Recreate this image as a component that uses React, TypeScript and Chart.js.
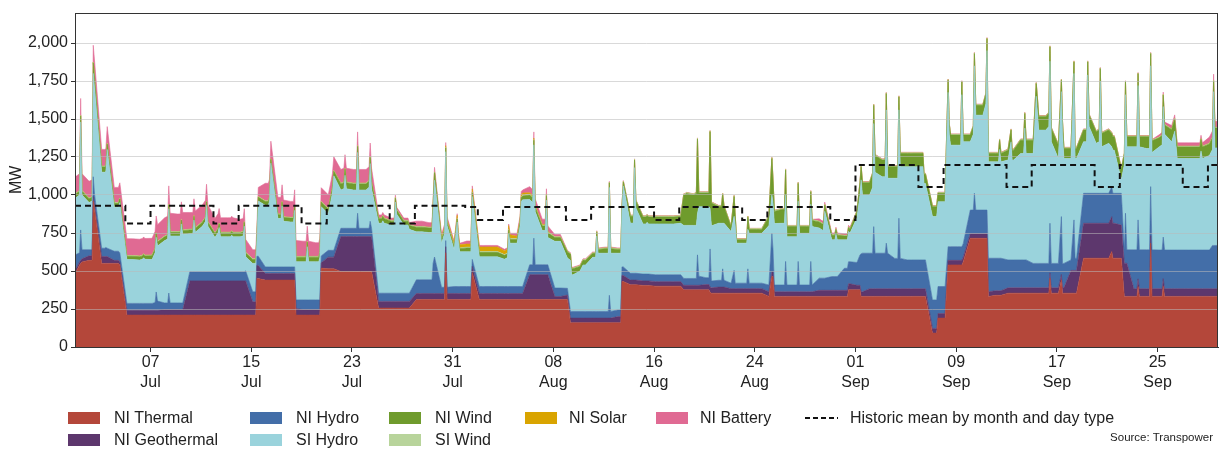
import React, { useEffect, useRef } from 'react';
import { Chart, registerables } from 'chart.js';

Chart.register(...registerables);

// ---------- DATA (days since 1 Jul 2025; 4 readings per day) ----------
const SAMPLE_OFFSETS = [0.12, 0.36, 0.45, 0.56];
const X_END = 90.8;

// NI Thermal (MW); a single number = same value all day
const niThermal: (number | number[])[] = [
  [500,540,550,560],[570,570,960,900],550,[550,550,550,540],210,210,210,210,210,210,
  210,210,210,210,[210,210,450,450],440,440,[440,440,440,210],210,[210,210,210,519],
  515,497,497,497,256,256,256,312,312,[312,312,620,312],
  312,[312,312,312,490],312,312,312,312,312,312,312,[312,160,160,160],
  160,160,160,[160,160,431,431],410,405,400,400,[400,376,376,376],376,
  [376,376,360,354],354,354,354,354,[333,464,464,333],333,333,333,333,
  333,[333,333,376,376],[376,376,333,333],333,333,333,333,333,[92,92,92,190],[190,540,540,540],
  [540,540,540,560],715,[715,715,715,333],340,354,354,354,[354,354,453,354],[354,442,354,354],354,
  584,584,[584,628,584,584],[584,333,333,333],[333,333,398,333],[333,333,683,333],[333,333,400,333],333,333,333,
  333
];

// NI Geothermal (MW, daily)
const niGeothermal: number[] = [
  20,30,45,20,32,32,32,35,35,225,
  225,225,225,225,87,43,43,43,35,35,
  76,230,230,230,44,44,44,40,40,40,
  40,40,40,40,40,40,164,164,20,30,
  30,30,30,40,30,30,30,30,30,30,
  35,40,30,30,30,30,30,30,30,40,
  40,40,30,50,50,50,50,50,30,30,
  30,30,30,30,35,35,35,35,35,150,
  230,230,230,218,50,50,50,50,50,50,
  50
];

// NI Hydro (MW)
const niHydro: (number | number[])[] = [
  [90,60,200,60],[40,40,130,70],[55,55,60,55],60,45,45,[45,50,120,60],[45,45,110,45],45,60,
  60,60,60,[60,60,60,66],[66,66,60,60],44,44,[44,44,44,57],65,[65,65,65,45],
  45,54,[54,54,153,54],[54,54,100,54],54,54,54,90,[90,90,200,240],[41,41,40,41],
  46,46,46,46,46,46,[65,65,240,65],65,56,44,
  44,44,[44,44,150,44],[44,44,56,56],45,45,45,45,45,[45,45,200,60],
  [45,45,250,45],[45,45,120,45],[36,120,36,36],[36,36,130,36],36,[45,254,150,45],[45,45,200,45],[45,45,200,45],[45,45,200,45],80,
  90,145,[150,200,250,254],[234,234,409,234],[234,234,300,234],[200,200,464,200],190,190,[188,188,188,178],[178,90,90,90],
  90,[156,156,266,156],[156,156,156,221],214,184,184,161,[161,161,326,161],[161,381,161,161],[69,332,80,80],
  197,197,197,[209,88,329,88],[256,256,388,256],[256,256,322,256],[255,255,273,255],255,255,255,
  [255,285,285,285]
];

// SI Hydro (MW)
const siHydro: (number | number[])[] = [
  [375,380,710,360],[310,320,680,700],[500,500,500,650],[290,290,290,330],288,[285,290,300,290],[288,328,360,363],[410,420,555,440],[440,440,520,450],[250,250,340,260],
  [300,330,436,300],[226,256,291,230],[230,230,240,230],[230,236,300,92],[187,187,103,363],[405,405,432,682],[318,318,400,300],[296,296,372,251],[251,251,350,251],[251,251,280,324],
  [240,340,380,490],[252,260,349,260],[252,252,400,252],[252,270,380,260],[460,460,476,460],[449,449,600,520],[449,449,449,420],[316,316,316,316],[311,311,345,505],[288,354,585,404],
  [242,424,304,229],[229,229,229,414],195,195,[180,190,346,285],[285,400,560,570],[429,409,614,349],[225,225,425,180],307,[199,336,241,241],
  [266,306,306,306],[356,356,496,383],[383,383,710,383],[373,373,373,533],[330,330,695,430],[330,330,340,330],335,335,[339,349,349,349],[349,349,272,457],
  [467,467,267,363],[375,375,300,375],[340,356,380,263],[263,263,260,328],328,[390,252,306,404],[406,406,437,318],[318,318,397,340],[340,340,377,384],[330,317,317,440],
  [242,242,280,242],[187,187,200,187],[294,394,487,383],[383,433,678,533],[503,503,877,493],[527,527,713,603],613,[613,613,503,503],[548,548,548,558],[558,1015,740,668],
  [668,668,1000,670],[449,499,839,624],[624,699,1049,635],[635,635,716,635],[657,777,657,657],[700,700,867,700],[723,1100,1000,877],[877,900,1066,800],[690,822,850,690],[667,964,656,656],
  [339,339,779,439],[329,340,739,306],[329,262,284,284],[89,561,780,678],[678,678,884,678],[667,667,795,641],[678,692,859,762],[712,782,702,602],602,[602,602,652,602],
  [622,632,1012,642]
];

// NI Wind (MW)
const niWind: (number | number[])[] = [
  [25,25,40,25],[25,25,70,60],35,25,22,22,25,25,25,25,
  25,25,25,25,25,25,25,[25,25,25,30],30,30,
  30,40,40,40,30,25,25,30,[30,30,45,50],25,
  20,25,30,30,25,25,30,30,25,40,
  30,25,30,25,[45,45,50,45],45,45,45,[45,200,200,210],[200,210,490,90],
  [90,90,504,150],[110,110,190,110],[30,130,60,22],[22,22,80,25],25,[60,240,150,80],[90,90,164,66],[66,66,116,44],[44,44,81,40],40,
  30,25,[40,80,86,80],[80,90,120,110],[110,110,107,76],[76,76,85,87],87,[87,87,60,60],[65,65,65,55],[55,80,66,66],
  [66,66,84,44],[44,50,80,65],[65,65,78,54],[54,54,61,54],[65,77,65,65],[88,88,96,88],[88,83,90,88],[88,88,94,88],[88,75,80,66],[66,75,66,66],
  [77,77,85,76],[76,76,81,88],88,[70,70,84,66],[66,66,78,66],[77,77,80,77],[60,62,75,60],[80,80,78,76],76,76,
  [76,76,70,130]
];

// SI Wind (MW, daily)
const siWind: number[] = [
  5,5,5,5,5,5,5,5,5,5, 5,5,5,5,5,5,5,5,5,5,
  5,5,5,5,5,5,5,5,5,5, 5,5,5,5,5,5,5,5,5,5,
  5,5,5,5,6,6,6,6,6,6, 6,6,6,6,6,6,6,6,6,5,
  5,5,5,5,5,5,5,5,5,5, 5,5,5,5,5,5,5,5,5,5,
  5,5,5,5,5,5,5,5,5,5, 5
];

// NI Solar (MW, daily)
const niSolar: number[] = [
  0,0,0,0,0,0,0,0,0,0, 0,0,0,0,0,0,0,0,0,0,
  0,0,0,0,0,0,0,0,0,10, 20,20,30,30,25,15,10,5,0,0,
  0,0,0,0,0,0,0,0,0,0, 0,0,0,0,0,0,0,0,0,0,
  0,0,0,0,0,0,0,0,0,0, 0,0,0,0,0,0,0,0,0,0,
  0,0,0,0,0,0,0,0,0,0, 0
];

// NI Battery (MW, daily)
const niBattery: number[] = [
  110,110,110,100,110,110,110,120,115,110,
  110,95,95,85,60,115,110,105,100,90,
  90,90,90,90,20,15,15,35,30,20,
  10,20,10,10,10,20,40,35,15,5,
  5,5,5,5,2,2,2,2,2,2,
  2,2,2,2,2,2,2,2,2,15,
  10,10,3,3,3,3,3,3,3,3,
  3,3,3,3,3,3,3,3,3,3,
  3,3,3,3,3,3,15,22,22,22,
  40
];

// Historic mean by month and day type
const dayTypes = 'wwwweew'.repeat(13); // 1 Jul 2025 is a Tuesday
const monthStartDay = [0, 31, 62];
const histWeekday = [930, 921, 1198];
const histWeekend = [812, 836, 1052];

// Axis ticks
const yTicks = [0, 250, 500, 750, 1000, 1250, 1500, 1750, 2000];
const tickDays = [6, 14, 22, 30, 38, 46, 54, 62, 70, 78, 86];
const tickDayLabels = ['07', '15', '23', '31', '08', '16', '24', '01', '09', '17', '25'];
const tickMonthLabels = ['Jul', 'Jul', 'Jul', 'Jul', 'Aug', 'Aug', 'Aug', 'Sep', 'Sep', 'Sep', 'Sep'];

// ---------- helpers ----------
function expandRows(rows: (number | number[])[]): number[] {
  const out: number[] = [];
  for (const r of rows) {
    if (Array.isArray(r)) out.push(...r);
    else out.push(r, r, r, r);
  }
  return out;
}

const sampleTimes: number[] = [];
for (let d = 0; d < niGeothermal.length; d++) {
  for (const o of SAMPLE_OFFSETS) sampleTimes.push(d + o);
}

function toPoints(rows: (number | number[])[]) {
  const vals = expandRows(rows);
  const pts = [{ x: 0, y: vals[0] }];
  vals.forEach((v, i) => pts.push({ x: sampleTimes[i], y: v }));
  pts.push({ x: X_END, y: vals[vals.length - 1] });
  return pts;
}

function historicPoints() {
  const pts: { x: number; y: number }[] = [];
  for (let d = 0; d < dayTypes.length; d++) {
    let m = 0;
    for (let k = 0; k < monthStartDay.length; k++) if (d >= monthStartDay[k]) m = k;
    pts.push({ x: d, y: dayTypes[d] === 'e' ? histWeekend[m] : histWeekday[m] });
  }
  pts.push({ x: X_END, y: pts[pts.length - 1].y });
  return pts;
}

const FONT = '"Liberation Sans", Arial, Helvetica, sans-serif';

const COLORS = {
  thermal: '#b4473a',
  geo: '#5d376d',
  niHydro: '#436ea8',
  siHydro: '#9ad3dc',
  niWind: '#6f9b2d',
  siWind: '#b8d49b',
  solar: '#d9a400',
  battery: '#e06a93',
};

const framePlugin = {
  id: 'frame',
  afterDraw(chart: any) {
    const { ctx, chartArea: a } = chart;
    ctx.save();
    ctx.strokeStyle = '#333';
    ctx.lineWidth = 1;
    ctx.strokeRect(Math.round(a.left) + 0.5, Math.round(a.top) + 0.5, Math.round(a.right - a.left) - 1, Math.round(a.bottom - a.top));
    ctx.restore();
  },
};

function areaDs(label: string, rows: (number | number[])[], color: string, idx: number) {
  return {
    label,
    data: toPoints(rows),
    backgroundColor: color,
    borderColor: color,
    borderWidth: 0.6,
    fill: idx === 0 ? 'origin' : '-1',
    pointRadius: 0,
    tension: 0,
    stack: 'gen',
  };
}

export default function App() {
  const canvasRef = useRef<HTMLCanvasElement>(null);

  useEffect(() => {
    document.body.style.margin = '0';
    const canvas = canvasRef.current;
    if (!canvas) return;
    const datasets: any[] = [
      areaDs('NI Thermal', niThermal, COLORS.thermal, 0),
      areaDs('NI Geothermal', niGeothermal, COLORS.geo, 1),
      areaDs('NI Hydro', niHydro, COLORS.niHydro, 2),
      areaDs('SI Hydro', siHydro, COLORS.siHydro, 3),
      areaDs('NI Wind', niWind, COLORS.niWind, 4),
      areaDs('SI Wind', siWind, COLORS.siWind, 5),
      areaDs('NI Solar', niSolar, COLORS.solar, 6),
      areaDs('NI Battery', niBattery, COLORS.battery, 7),
      {
        label: 'Historic mean by month and day type',
        data: historicPoints(),
        borderColor: '#111',
        borderWidth: 2,
        borderDash: [6, 4],
        fill: false,
        pointRadius: 0,
        stepped: true,
        stack: 'hist',
        order: -1,
      },
    ];

    const chart = new Chart(canvas, {
      type: 'line',
      data: { datasets },
      options: {
        responsive: false,
        animation: false,
        devicePixelRatio: 1,
        layout: { padding: { left: 0, top: 12, right: 4, bottom: 52 } },
        plugins: {
          legend: { display: false },
          tooltip: { enabled: false },
        },
        scales: {
          x: {
            type: 'linear',
            min: 0,
            max: X_END,
            afterBuildTicks: (s: any) => {
              s.ticks = tickDays.map((v) => ({ value: v }));
            },
            afterFit: (s: any) => {
              s.height = 50;
            },
            ticks: {
              autoSkip: false,
              maxRotation: 0,
              minRotation: 0,
              padding: 1,
              color: '#222',
              font: { family: FONT, size: 16, lineHeight: 1.25 },
              callback: (v: any) => {
                const i = tickDays.indexOf(Number(v));
                return i >= 0 ? [tickDayLabels[i], tickMonthLabels[i]] : '';
              },
            },
            grid: { drawOnChartArea: false, drawTicks: true, tickLength: 5, color: '#333' },
            border: { display: true, color: '#333', width: 1 },
          },
          y: {
            stacked: true,
            min: 0,
            max: 2200,
            afterBuildTicks: (s: any) => {
              s.ticks = yTicks.map((v) => ({ value: v }));
            },
            afterFit: (s: any) => {
              s.width = 75;
            },
            ticks: {
              padding: 3,
              color: '#222',
              font: { family: FONT, size: 16 },
              callback: (v: any) => Number(v).toLocaleString('en-US'),
            },
            grid: {
              color: 'rgba(185,185,185,0.55)',
              lineWidth: 1,
              drawTicks: true,
              tickLength: 4,
              tickColor: '#333',
              z: 1,
            },
            border: { display: false },
            title: {
              display: true,
              text: 'MW',
              color: '#222',
              font: { family: FONT, size: 16 },
              padding: { top: 7, bottom: 0 },
            },
          },
        },
      } as any,
      plugins: [framePlugin],
    });
    return () => chart.destroy();
  }, []);

  const sw = (left: number, top: number, color: string) => (
    <div style={{ position: 'absolute', left, top, width: 32, height: 12, background: color }} />
  );
  const txt = (left: number, top: number, s: string) => (
    <div style={{ position: 'absolute', left, top, fontSize: 16, lineHeight: '18px', whiteSpace: 'nowrap' }}>{s}</div>
  );

  return (
    <div
      style={{
        position: 'relative',
        width: 1222,
        height: 449,
        overflow: 'hidden',
        background: '#fff',
        fontFamily: FONT,
        color: '#222',
      }}
    >
      <canvas ref={canvasRef} width={1222} height={449} style={{ position: 'absolute', left: 0, top: 0, width: 1222, height: 449 }} />
      {sw(68, 412, COLORS.thermal)}
      {txt(114, 409, 'NI Thermal')}
      {sw(68, 434, COLORS.geo)}
      {txt(114, 431, 'NI Geothermal')}
      {sw(250, 412, COLORS.niHydro)}
      {txt(296, 409, 'NI Hydro')}
      {sw(250, 434, COLORS.siHydro)}
      {txt(296, 431, 'SI Hydro')}
      {sw(389, 412, COLORS.niWind)}
      {txt(435, 409, 'NI Wind')}
      {sw(389, 434, COLORS.siWind)}
      {txt(435, 431, 'SI Wind')}
      {sw(525, 412, COLORS.solar)}
      {txt(569, 409, 'NI Solar')}
      {sw(656, 412, COLORS.battery)}
      {txt(700, 409, 'NI Battery')}
      <svg style={{ position: 'absolute', left: 805, top: 412 }} width={33} height={12}>
        <line x1={0} y1={6} x2={33} y2={6} stroke="#111" strokeWidth={2} strokeDasharray="5,3" />
      </svg>
      {txt(850, 409, 'Historic mean by month and day type')}
      <div style={{ position: 'absolute', right: 9, top: 430, fontSize: 11.5, lineHeight: '14px', whiteSpace: 'nowrap' }}>
        Source: Transpower
      </div>
    </div>
  );
}
